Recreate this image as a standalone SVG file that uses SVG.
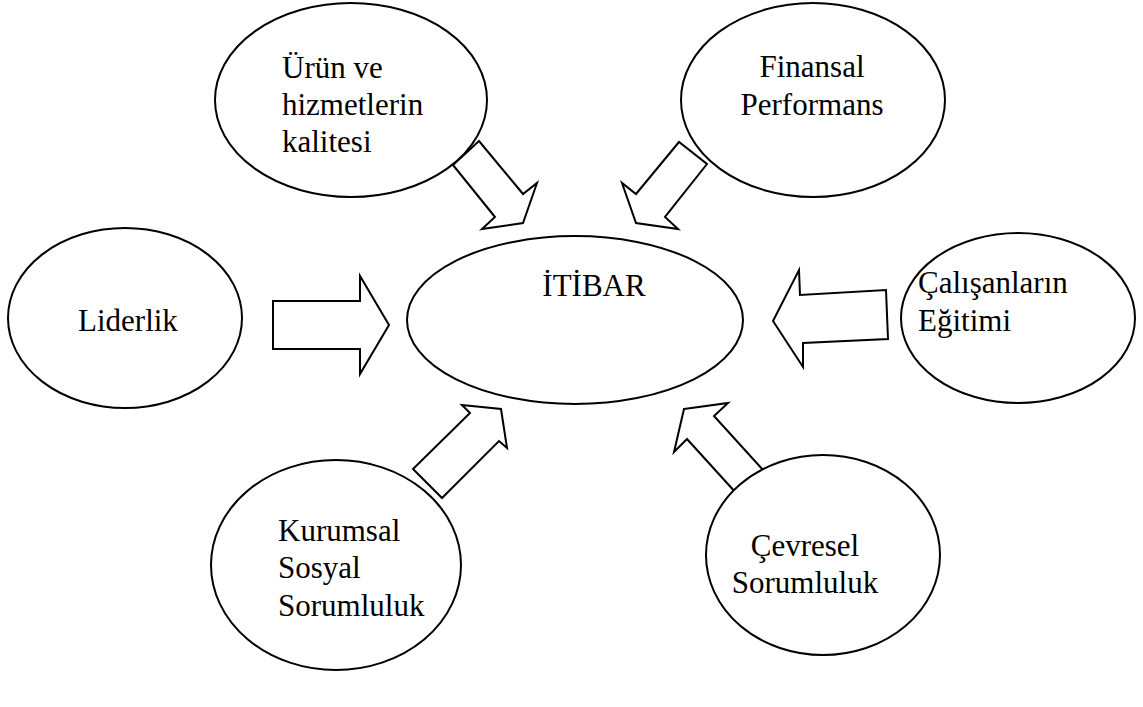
<svg xmlns="http://www.w3.org/2000/svg" width="1143" height="707" viewBox="0 0 1143 707">
<style>
.n{fill:#fff;stroke:#000;stroke-width:2}
.a{fill:#fff;stroke:#000;stroke-width:2;stroke-linejoin:miter}
text{font-family:"Liberation Serif","Times New Roman",serif;font-size:31px;fill:#000}
</style>
<rect width="1143" height="707" fill="#fff"/>
<g id="connectors">
<polygon class="a" points="479,141 453,165 495,217 482,229 523,223 537,183 523,194"/>
<polygon class="a" points="679,142 636,194 622,183 636,223 678,229 665,217 707,164"/>
<polygon class="a" points="273,301 360,301 360,276 389,325 360,374 360,349 273,349"/>
<polygon class="a" points="799,270 800,295 886,290 888,339 803,343 803,367 773,321"/>
<polygon class="a" points="462,405 470,413 413,469 442,498 499,441 507,448 501,409"/>
<polygon class="a" points="684,409 728,403 714,416 764,471 737,494 687,439 674,452"/>
</g>
<g id="itibar"><ellipse class="n" cx="575" cy="320" rx="168" ry="84"/><text x="594" y="296" text-anchor="middle">İTİBAR</text></g>
<g id="urun"><ellipse class="n" cx="351" cy="100" rx="136" ry="97"/><text x="282" y="78">Ürün ve</text><text x="282" y="115">hizmetlerin</text><text x="282" y="152">kalitesi</text></g>
<g id="finansal"><ellipse class="n" cx="813" cy="100" rx="132" ry="97"/><text x="812" y="77" text-anchor="middle">Finansal</text><text x="812" y="115" text-anchor="middle">Performans</text></g>
<g id="liderlik"><ellipse class="n" cx="125" cy="318" rx="117" ry="90"/><text x="78" y="331">Liderlik</text></g>
<g id="calisanlar"><ellipse class="n" cx="1018" cy="318" rx="117" ry="85"/><text x="918" y="293">Çalışanların</text><text x="918" y="331">Eğitimi</text></g>
<g id="kurumsal"><ellipse class="n" cx="336" cy="565" rx="125" ry="105"/><text x="278" y="541">Kurumsal</text><text x="278" y="578">Sosyal</text><text x="278" y="616">Sorumluluk</text></g>
<g id="cevresel"><ellipse class="n" cx="823" cy="555" rx="117" ry="100"/><text x="805" y="556" text-anchor="middle">Çevresel</text><text x="805" y="593" text-anchor="middle">Sorumluluk</text></g>
</svg>
